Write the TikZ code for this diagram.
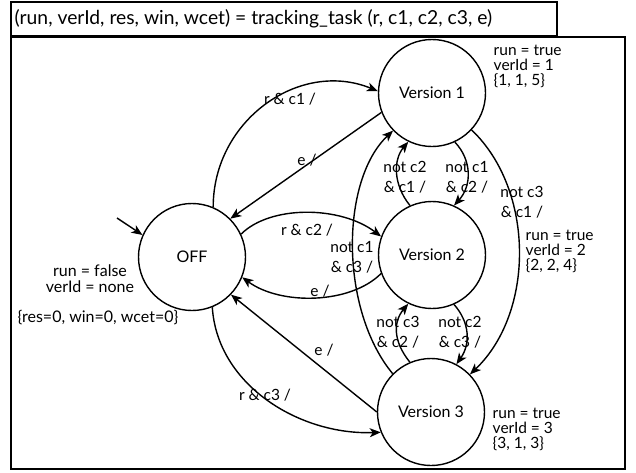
\documentclass[tikz,border=0pt]{standalone}
\usepackage{fontspec}
\setmainfont{Lato}
\usetikzlibrary{arrows.meta}

\begin{document}
\begin{tikzpicture}[x=1pt,y=-1pt,line width=1.4pt,>={Stealth[length=11pt,width=9pt,inset=3pt]}]
\tikzstyle{state} = [circle,draw,minimum size=107pt,inner sep=0pt,font=\fontsize{16}{18}\selectfont]
\tikzstyle{lbl} = [inner sep=0pt,align=center,font=\fontsize{15.5}{20}\selectfont]
\tikzstyle{info} = [inner sep=0pt,align=left,anchor=north west,font=\fontsize{15.5}{15}\selectfont]

\useasboundingbox (0,0) rectangle (636,472);
\draw (11,2) rectangle (557,36);
\draw[line width=2pt] (11,37) rectangle (625,469);
\node[anchor=west,inner sep=0pt,font=\fontsize{19.3}{20}\selectfont] (title) at (14,19) {(run, verId, res, win, wcet) = tracking\_task (r, c1, c2, c3, e)};

\node [state] (off) at (192,257) {OFF};
\node [state] (v1) at (432,93) {Version 1};
\node [state] (v2) at (432,255) {Version 2};
\node [state] (v3) at (431,412) {Version 3};

\node [info] (i1) at (493,44) {run = true\\verId = 1\\\{1, 1, 5\}};
\node [info] (i2) at (525,229) {run = true\\verId = 2\\\{2, 2, 4\}};
\node [info] (i3) at (492,407) {run = true\\verId = 3\\\{3, 1, 3\}};
\node [lbl,font=\fontsize{16}{16}\selectfont] (i0) at (90,279) {run = false\\verId = none};
\node [lbl,font=\fontsize{16}{16}\selectfont] (i4) at (98,318) {\{res=0, win=0, wcet=0\}};

\coordinate (start) at (117,218);
\draw[->] (start) -- (off.156);

\draw[->] (off.67) .. controls +(0,-87) and +(-78,-32) .. (v1.178);
\draw[->] (v1.201) -- (off.45);
\draw[->] (off.25) .. controls +(29,-29) and +(-41,-31) .. (v2.160);
\draw[->] (v2.200) .. controls +(-31,31) and +(38,28) .. (off.338);
\draw[->] (off.292) .. controls +(5,78) and +(-81,3) .. (v3.202);
\draw[->] (v3.180) -- (off.316);
\draw[->] (v3.135) .. controls +(-53,-64) and +(-53,50) .. (v1.224);
\draw[->] (v2.114) .. controls +(-17,-21) and +(-15,18) .. (v1.244);
\draw[->] (v1.295) .. controls +(17,18) and +(18,-20) .. (v2.66);
\draw[->] (v3.113) .. controls +(-17,-21) and +(-15,18) .. (v2.244);
\draw[->] (v2.294) .. controls +(16,18) and +(14,-20) .. (v3.62);
\draw[->] (v1.317) .. controls +(63,60) and +(65,-62) .. (v3.44);

\node [lbl] (l1) at (290,99) {r \& c1 /};
\node [lbl] (l2) at (307,160) {e /};
\node [lbl] (l3) at (307,230) {r \& c2 /};
\node [lbl] (l4) at (352,257) {not c1\\\& c3 /};
\node [lbl] (l5) at (320,291) {e /};
\node [lbl] (l6) at (405,177) {not c2\\\& c1 /};
\node [lbl] (l7) at (467,177) {not c1\\\& c2 /};
\node [lbl] (l8) at (522,202) {not c3\\\& c1 /};
\node [lbl] (l9) at (398,332) {not c3\\\& c2 /};
\node [lbl] (l10) at (460,332) {not c2\\\& c3 /};
\node [lbl] (l11) at (324,350) {e /};
\node [lbl] (l12) at (265,395) {r \& c3 /};
\end{tikzpicture}
\end{document}
